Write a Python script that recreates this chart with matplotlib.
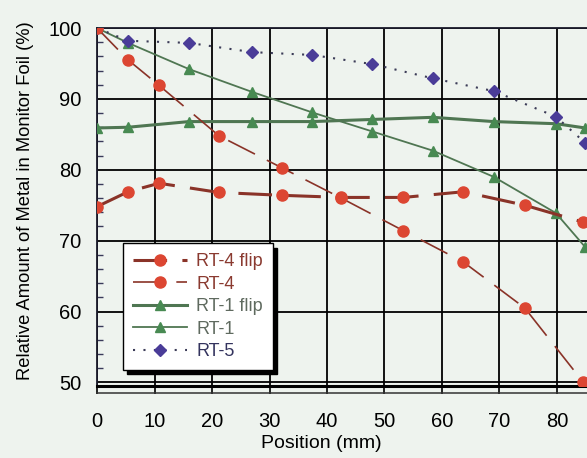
import matplotlib
matplotlib.use('Agg')
import matplotlib.pyplot as plt
from matplotlib.lines import Line2D
from matplotlib.ticker import MultipleLocator

# monitor foil positions (mm) and relative metal content (%)
x_rt4_flip = [0, 5.4, 10.8, 21.2, 32.1, 42.5, 53.3, 63.7, 74.4, 84.6]
y_rt4_flip = [74.8, 76.9, 78.1, 76.8, 76.4, 76.1, 76.1, 76.9, 75.0, 72.6]

x_rt4 = [0, 5.4, 10.8, 21.2, 32.1, 42.5, 53.3, 63.7, 74.4, 84.6]
y_rt4 = [100, 95.5, 91.9, 84.8, 80.3, 76.0, 71.4, 67.0, 60.5, 50.0]

x_rt1_flip = [0, 5.4, 16.0, 26.9, 37.4, 47.9, 58.4, 69.0, 79.8, 84.9]
y_rt1_flip = [85.9, 86.0, 86.8, 86.8, 86.8, 87.1, 87.4, 86.8, 86.5, 85.9]

x_rt1 = [0, 5.4, 16.0, 26.9, 37.4, 47.9, 58.4, 69.0, 79.8, 84.9]
y_rt1 = [100, 97.9, 94.2, 91.0, 88.1, 85.4, 82.7, 79.0, 73.9, 69.1]

x_rt5 = [0, 5.4, 16.0, 26.9, 37.4, 47.9, 58.4, 69.0, 79.8, 84.9]
y_rt5 = [100, 98.2, 97.9, 96.6, 96.2, 94.9, 92.9, 91.1, 87.5, 83.8]

bg = '#eef3ee'
red_line = '#8a3328'
red_mk = '#dc4632'
green_line = '#4f7652'
green_mk = '#488a52'
blue_mk = '#4a3c98'

plt.rcParams['font.family'] = ['Liberation Sans', 'DejaVu Sans']

fig = plt.figure(figsize=(5.87, 4.58), dpi=100, facecolor=bg)
ax = fig.add_axes([97 / 587, 72 / 458, 517.5 / 587, 358 / 458], facecolor=bg)

ax.plot(x_rt4_flip, y_rt4_flip, color=red_line, lw=2.2, ls=(0, (11, 5)),
        marker='o', ms=8, mfc=red_mk, mec=red_mk, label='RT-4 flip', zorder=4)
ax.plot(x_rt4, y_rt4, color=red_line, lw=1.2, ls=(0, (18, 8)),
        marker='o', ms=8, mfc=red_mk, mec=red_mk, label='RT-4', zorder=4)
ax.plot(x_rt1_flip, y_rt1_flip, color=green_line, lw=2.2,
        marker='^', ms=7, mfc=green_mk, mec=green_mk, label='RT-1 flip', zorder=3)
ax.plot(x_rt1, y_rt1, color=green_line, lw=1.3,
        marker='^', ms=7, mfc=green_mk, mec=green_mk, label='RT-1', zorder=3)
ax.plot(x_rt5, y_rt5, color='#3c3c58', lw=1.5, ls=(0, (1, 4)),
        marker='D', ms=6, mfc=blue_mk, mec=blue_mk, label='RT-5', zorder=3)

ax.set_xlim(0, 90)
ax.set_ylim(49.5, 100)
ax.yaxis.set_major_locator(MultipleLocator(10))
ax.yaxis.set_minor_locator(MultipleLocator(2))
ax.set_xticks(range(0, 90, 10))
ax.grid(True, which='major', color='black', lw=1.3)
ax.set_axisbelow(True)

for side in ['top', 'left']:
    ax.spines[side].set_linewidth(1.3)
    ax.spines[side].set_color('#1a1a2a')
ax.spines['bottom'].set_linewidth(2.2)
ax.spines['right'].set_visible(False)

ax.tick_params(axis='y', which='major', direction='in', length=0, labelsize=14.5, pad=11)
ax.tick_params(axis='y', which='minor', direction='in', length=4, width=1, color='#3a3a5a')
ax.tick_params(axis='x', which='major', direction='out', length=5.5, width=1.2,
               labelsize=14.5, pad=13)

# second rule under the x axis
fig.add_artist(Line2D([97 / 587, 1], [1 - 393 / 458] * 2, color='#333333', lw=1.1))

ax.set_xlabel('Position (mm)', fontsize=14)
ax.xaxis.set_label_coords(0.434, -0.137)
ax.set_ylabel('Relative Amount of Metal in Monitor Foil (%)', fontsize=13.2)
ax.yaxis.set_label_coords(-0.122, 0.517)

leg = ax.legend(loc='lower left', bbox_to_anchor=(0.05, 0.045), borderaxespad=0,
                fontsize=13, handlelength=3.0, labelspacing=0.3, handletextpad=0.5,
                borderpad=0.55, fancybox=False, framealpha=1, edgecolor='black',
                shadow={'color': 'black', 'alpha': 1, 'ox': 3, 'oy': -3})
leg.get_frame().set_facecolor('white')
leg.get_frame().set_linewidth(1.0)
text_colors = ['#8a3a30', '#8a3a30', '#5f6a5f', '#5f6a5f', '#34345e']
for txt, c in zip(leg.get_texts(), text_colors):
    txt.set_color(c)

fig.savefig('out.png', dpi=100, facecolor=bg)
